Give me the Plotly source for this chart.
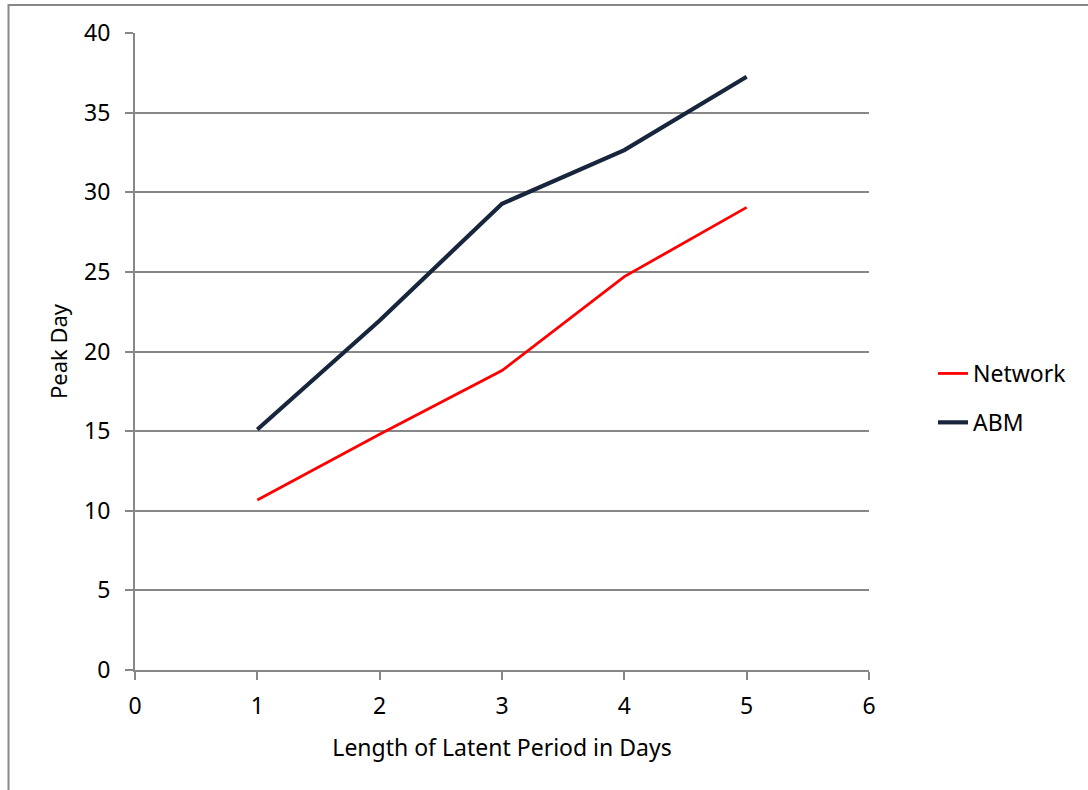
import plotly.graph_objects as go

latent_days = [1, 2, 3, 4, 5]
network_peak = [10.67, 14.8, 18.8, 24.7, 29.05]
abm_peak = [15.1, 21.95, 29.28, 32.65, 37.25]

W, H = 1088, 790
L, R, T, B = 135, 219, 33, 120
pw, ph = W - L - R, H - T - B

font = "Noto Sans, Open Sans, Liberation Sans, sans-serif"

fig = go.Figure()
fig.add_trace(go.Scatter(x=latent_days, y=network_peak, mode="lines", name="Network",
                         legendgroup="a",
                         line=dict(color="#FF0000", width=2.8)))
fig.add_trace(go.Scatter(x=latent_days, y=abm_peak, mode="lines", name="ABM",
                         legendgroup="b",
                         line=dict(color="#17263D", width=4.2)))

fig.update_layout(
    width=W, height=H,
    margin=dict(l=L, r=R, t=T, b=B),
    paper_bgcolor="white", plot_bgcolor="white",
    font=dict(family=font, size=23, color="black"),
    showlegend=True,
    legend=dict(x=(933 - L) / pw, y=(670 - 398) / ph, xanchor="left", yanchor="middle",
                font=dict(size=23), tracegroupgap=16,
                bgcolor="rgba(0,0,0,0)"),
    xaxis=dict(range=[0, 6], tickvals=[0, 1, 2, 3, 4, 5, 6], showgrid=False,
               showline=True, linecolor="#878787", linewidth=2,
               ticks="outside", ticklen=8, tickcolor="#878787", tickwidth=2,
               ticklabelstandoff=6,
               zeroline=False, tickfont=dict(size=23),
               title=dict(text="Length of Latent Period in Days", font=dict(size=23), standoff=20)),
    yaxis=dict(range=[0, 40], tickvals=[0, 5, 10, 15, 20, 25, 30, 35, 40],
               showgrid=True, gridcolor="#878787", gridwidth=2,
               showline=True, linecolor="#878787", linewidth=2,
               ticks="outside", ticklen=8, tickcolor="#878787", tickwidth=2,
               ticklabelstandoff=10,
               zeroline=False, tickfont=dict(size=23),
               title=dict(text="Peak Day", font=dict(size=22), standoff=10)),
)

fig.add_shape(type="rect", xref="paper", yref="paper",
              x0=(8.5 - L) / pw, x1=1.4, y0=-0.4, y1=(670 - 5) / ph,
              line=dict(color="#878787", width=2), fillcolor="rgba(0,0,0,0)", layer="below")

fig.write_html("out.html")
